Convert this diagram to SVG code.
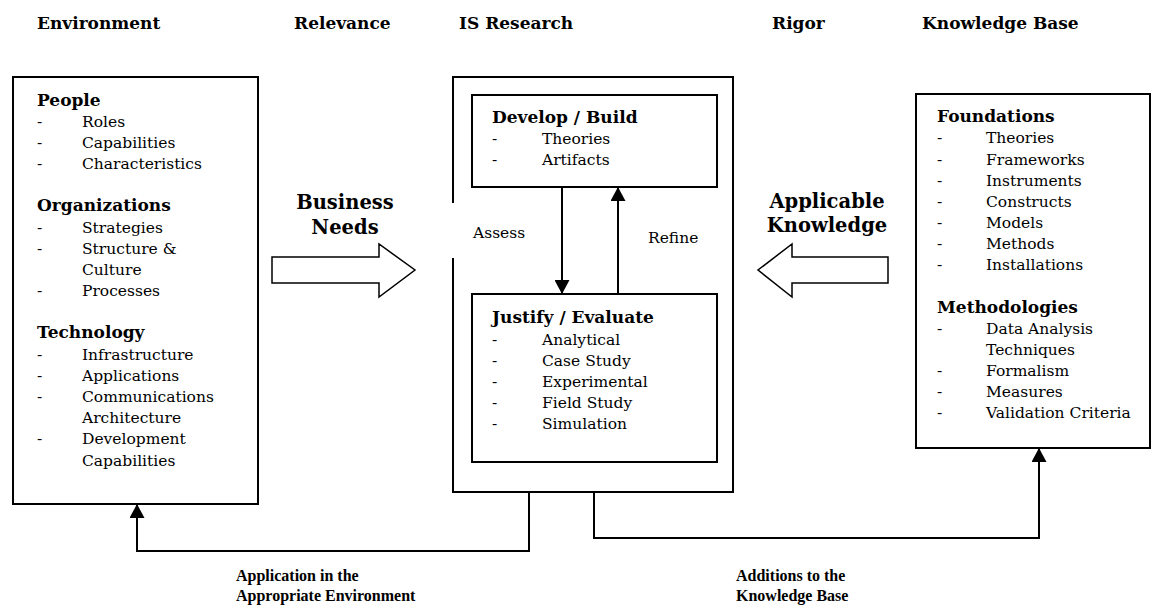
<svg xmlns="http://www.w3.org/2000/svg" width="1162" height="611" viewBox="0 0 1162 611">
  <style>
    .box { fill: #fff; stroke: #000; stroke-width: 2; }
    .line { fill: none; stroke: #000; stroke-width: 2; }
    .block { fill: #fff; stroke: #000; stroke-width: 1.5; }
    .head { font-family: "DejaVu Serif", "Liberation Serif", serif; font-weight: bold; font-size: 17px; fill: #000; }
    .sec { font-family: "DejaVu Serif", "Liberation Serif", serif; font-weight: bold; font-size: 17px; fill: #000; }
    .item { font-family: "DejaVu Serif", "Liberation Serif", serif; font-size: 15.5px; fill: #000; }
    .big { font-family: "DejaVu Serif", "Liberation Serif", serif; font-weight: bold; font-size: 19.5px; fill: #000; text-anchor: middle; }
    .foot { font-family: "Liberation Serif", serif; font-weight: bold; font-size: 16px; fill: #000; }
  </style>
  <defs>
    <marker id="tip" viewBox="0 0 14 15" refX="14" refY="7.5" markerWidth="14" markerHeight="15" markerUnits="userSpaceOnUse" orient="auto">
      <path d="M0,0 L14,7.5 L0,15 Z" fill="#000"/>
    </marker>
  </defs>
  <rect width="1162" height="611" fill="#fff"/>

  <!-- column titles -->
  <g id="titles">
    <text class="head" x="37" y="29">Environment</text>
    <text class="head" x="294" y="29">Relevance</text>
    <text class="head" x="459" y="29">IS Research</text>
    <text class="head" x="772" y="29">Rigor</text>
    <text class="head" x="922" y="29">Knowledge Base</text>
  </g>

  <!-- environment -->
  <g id="environment">
    <rect class="box" x="13" y="77" width="245" height="427"/>
    <text class="sec" x="37" y="106">People</text>
    <g class="item">
      <text x="37" y="127">-</text><text x="82" y="127">Roles</text>
      <text x="37" y="148">-</text><text x="82" y="148">Capabilities</text>
      <text x="37" y="169">-</text><text x="82" y="169">Characteristics</text>
    </g>
    <text class="sec" x="37" y="211">Organizations</text>
    <g class="item">
      <text x="37" y="233">-</text><text x="82" y="233">Strategies</text>
      <text x="37" y="254">-</text><text x="82" y="254">Structure &amp;</text>
      <text x="82" y="275">Culture</text>
      <text x="37" y="296">-</text><text x="82" y="296">Processes</text>
    </g>
    <text class="sec" x="37" y="338">Technology</text>
    <g class="item">
      <text x="37" y="360">-</text><text x="82" y="360">Infrastructure</text>
      <text x="37" y="381">-</text><text x="82" y="381">Applications</text>
      <text x="37" y="402">-</text><text x="82" y="402">Communications</text>
      <text x="82" y="423">Architecture</text>
      <text x="37" y="444">-</text><text x="82" y="444">Development</text>
      <text x="82" y="466">Capabilities</text>
    </g>
  </g>

  <!-- IS research frame, left side opened behind the "Assess" label -->
  <g id="is-research">
    <path class="line" d="M453,203 L453,77 L733,77 L733,492 L453,492 L453,258"/>
    <text class="item" x="473" y="238">Assess</text>
    <text class="item" x="648" y="243">Refine</text>
  </g>

  <g id="develop-build">
    <rect class="box" x="472" y="95" width="245" height="92"/>
    <text class="sec" x="492" y="123">Develop / Build</text>
    <g class="item">
      <text x="492" y="144">-</text><text x="542" y="144">Theories</text>
      <text x="492" y="165">-</text><text x="542" y="165">Artifacts</text>
    </g>
  </g>

  <g id="justify-evaluate">
    <rect class="box" x="472" y="294" width="245" height="168"/>
    <text class="sec" x="492" y="323">Justify / Evaluate</text>
    <g class="item">
      <text x="492" y="345">-</text><text x="542" y="345">Analytical</text>
      <text x="492" y="366">-</text><text x="542" y="366">Case Study</text>
      <text x="492" y="387">-</text><text x="542" y="387">Experimental</text>
      <text x="492" y="408">-</text><text x="542" y="408">Field Study</text>
      <text x="492" y="429">-</text><text x="542" y="429">Simulation</text>
    </g>
  </g>

  <!-- knowledge base -->
  <g id="knowledge-base">
    <rect class="box" x="916" y="94" width="234" height="354"/>
    <text class="sec" x="937" y="122">Foundations</text>
    <g class="item">
      <text x="937" y="143">-</text><text x="986" y="143">Theories</text>
      <text x="937" y="165">-</text><text x="986" y="165">Frameworks</text>
      <text x="937" y="186">-</text><text x="986" y="186">Instruments</text>
      <text x="937" y="207">-</text><text x="986" y="207">Constructs</text>
      <text x="937" y="228">-</text><text x="986" y="228">Models</text>
      <text x="937" y="249">-</text><text x="986" y="249">Methods</text>
      <text x="937" y="270">-</text><text x="986" y="270">Installations</text>
    </g>
    <text class="sec" x="937" y="313">Methodologies</text>
    <g class="item">
      <text x="937" y="334">-</text><text x="986" y="334">Data Analysis</text>
      <text x="986" y="355">Techniques</text>
      <text x="937" y="376">-</text><text x="986" y="376">Formalism</text>
      <text x="937" y="397">-</text><text x="986" y="397">Measures</text>
      <text x="937" y="418">-</text><text x="986" y="418">Validation Criteria</text>
    </g>
  </g>

  <!-- block arrows with labels -->
  <g id="business-needs">
    <text class="big" x="345" y="209">Business</text>
    <text class="big" x="345" y="234">Needs</text>
    <polygon class="block" points="272,257 379,257 379,244 415,270 379,297 379,283 272,283"/>
  </g>
  <g id="applicable-knowledge">
    <text class="big" x="827" y="208">Applicable</text>
    <text class="big" x="827" y="232">Knowledge</text>
    <polygon class="block" points="888,257 792,257 792,244 758,270 792,297 792,283 888,283"/>
  </g>

  <!-- connectors -->
  <g id="connectors">
    <line class="line" x1="562" y1="187" x2="562" y2="294" marker-end="url(#tip)"/>
    <line class="line" x1="618" y1="294" x2="618" y2="187" marker-end="url(#tip)"/>
    <polyline class="line" points="529,492 529,551 137,551 137,504" marker-end="url(#tip)"/>
    <polyline class="line" points="594,492 594,538 1039,538 1039,448" marker-end="url(#tip)"/>
  </g>

  <g id="bottom-labels">
    <text class="foot" x="236" y="581">Application in the</text>
    <text class="foot" x="236" y="601">Appropriate Environment</text>
    <text class="foot" x="736" y="581">Additions to the</text>
    <text class="foot" x="736" y="601">Knowledge Base</text>
  </g>
</svg>
